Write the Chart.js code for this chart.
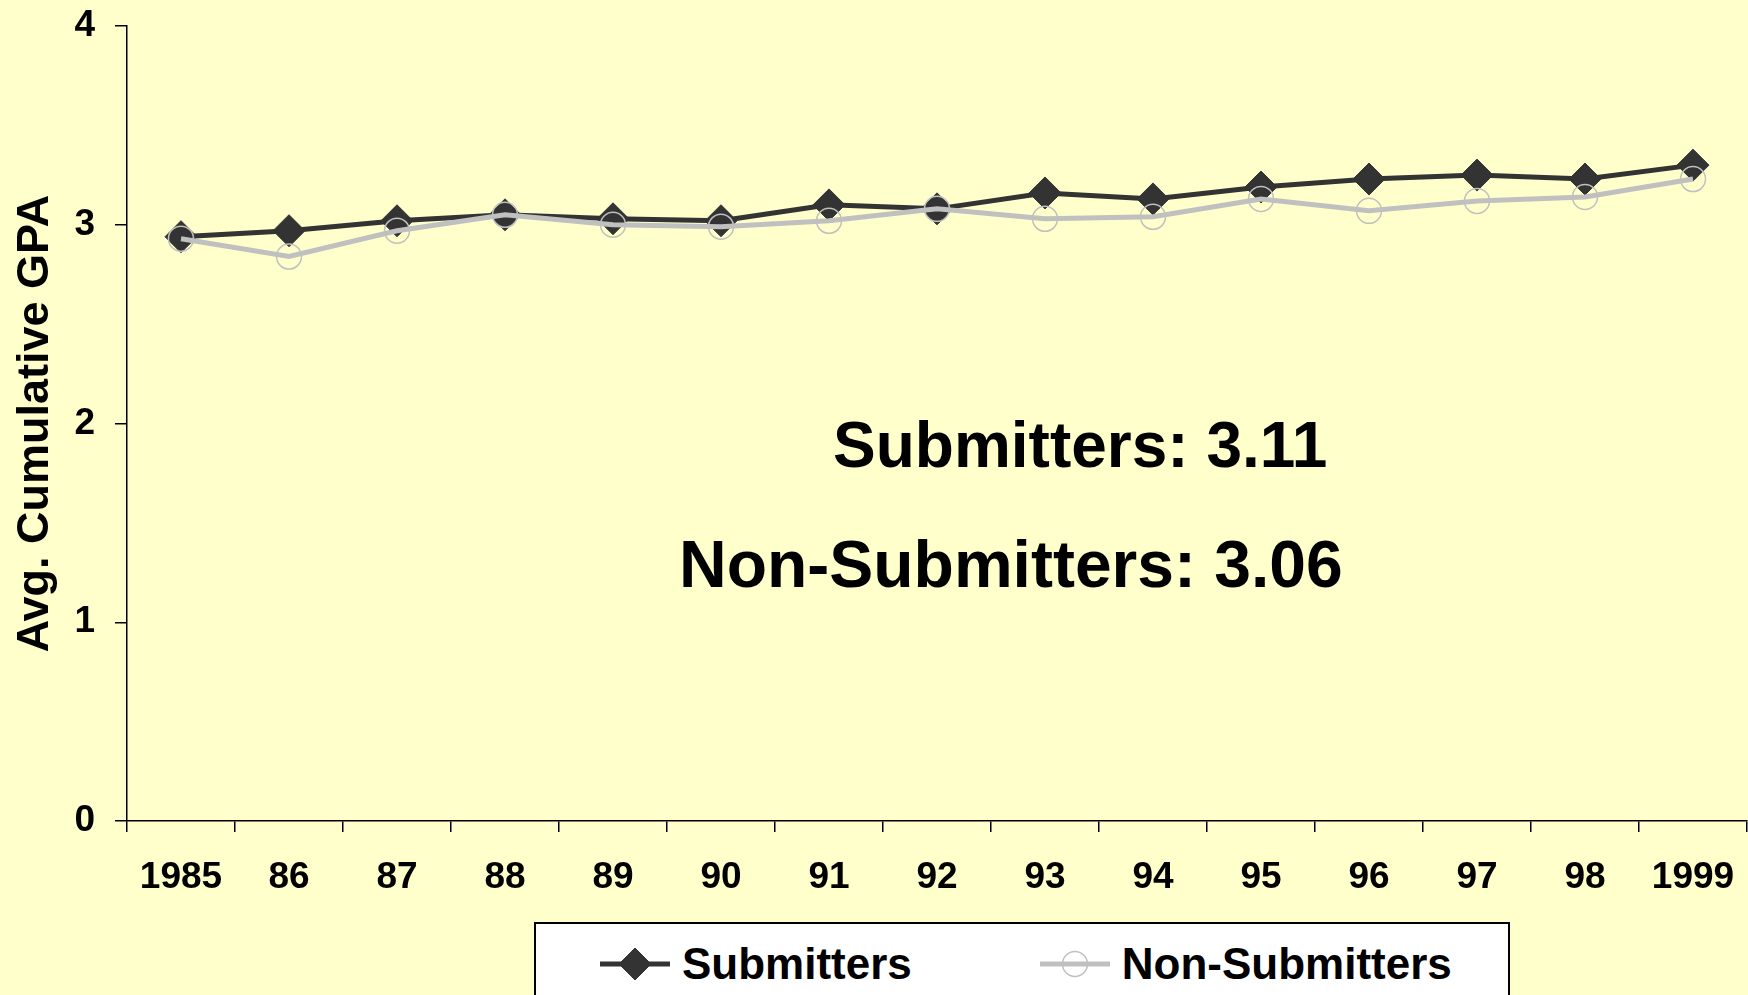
<!DOCTYPE html>
<html>
<head>
<meta charset="utf-8">
<title>Avg. Cumulative GPA</title>
<script src="https://cdn.jsdelivr.net/npm/chart.js"></script>
<style>
  body { margin: 0; background: #FFFFCC; overflow: hidden; font-family: "Liberation Sans", Arial, sans-serif; }
  #wrap { position: relative; width: 1748px; height: 995px; overflow: hidden; }
  #legend {
    position: absolute; left: 534px; top: 922px; width: 976px; height: 100px;
    background: #fff; border: 2px solid #000; box-sizing: border-box;
    display: flex; align-items: flex-start; padding: 16px 0 0 64px;
  }
  .item { display: flex; align-items: center; margin-right: 128px; flex-shrink: 0; white-space: nowrap; }
  .item canvas { margin-right: 12px; }
  .item span { font-weight: bold; font-size: 44px; line-height: 48px; color: #000; }
</style>
</head>
<body>
<div id="wrap">
  <!-- a bit wider than the window: chart.js keeps some room right of the axis, the wrapper cuts it off -->
  <canvas id="gpaChart" width="1764" height="995"></canvas>
  <div id="legend"></div>
</div>
<script>
const years = ["1985", "86", "87", "88", "89", "90", "91", "92", "93", "94", "95", "96", "97", "98", "1999"];
const submitters = [2.94, 2.97, 3.02, 3.05, 3.03, 3.02, 3.10, 3.08, 3.16, 3.13, 3.19, 3.23, 3.25, 3.23, 3.30];
const nonSubmitters = [2.93, 2.84, 2.97, 3.05, 3.00, 2.99, 3.02, 3.08, 3.03, 3.04, 3.13, 3.07, 3.12, 3.14, 3.23];
const yTicks = [0, 1, 2, 3, 4];
const notes = ["Submitters: 3.11", "Non-Submitters: 3.06"];

const FONT = "'Liberation Sans', Arial, sans-serif";

// big averages written in the middle of the plot
const notesPlugin = {
  id: 'notes',
  afterDraw(chart) {
    const ctx = chart.ctx;
    ctx.save();
    ctx.fillStyle = '#000';
    ctx.textAlign = 'left';
    ctx.textBaseline = 'middle';
    ctx.font = 'bold 64px ' + FONT;
    ctx.fillText(notes[0], 833, 449);
    ctx.font = 'bold 66px ' + FONT;
    ctx.fillText(notes[1], 679, 569);
    ctx.restore();
  }
};

// keep the plot area flush with the fixed axis sizes
function noPad(scale) {
  scale.paddingLeft = scale.paddingRight = scale.paddingTop = scale.paddingBottom = 0;
  if (scale._margins) {
    scale._margins.left = scale._margins.right = scale._margins.top = scale._margins.bottom = 0;
  }
}

const chart = new Chart("gpaChart", {
  type: "line",
  data: {
    labels: years,
    datasets: [{
      label: "Submitters",
      data: submitters,
      borderColor: "#333333",
      backgroundColor: "#333333",
      borderWidth: 5,
      pointStyle: "rectRot",
      pointRadius: 16,
      pointBorderWidth: 1,
      pointBackgroundColor: "#333333",
      order: 1,
      fill: false
    }, {
      label: "Non-Submitters",
      data: nonSubmitters,
      borderColor: "#C0C0C0",
      backgroundColor: "rgba(0,0,0,0)",
      borderWidth: 5,
      pointStyle: "circle",
      pointRadius: 12.5,
      pointBorderWidth: 1.5,
      pointBackgroundColor: "rgba(0,0,0,0)",
      order: 0,
      fill: false
    }]
  },
  options: {
    responsive: false,
    animation: false,
    layout: { padding: { top: 26, right: 0, bottom: 0, left: 0 } },
    plugins: {
      legend: { display: false },
      tooltip: { enabled: false }
    },
    scales: {
      x: {
        offset: true,
        grid: { offset: true, drawOnChartArea: false, color: "#000", lineWidth: 1.5, tickLength: 11 },
        border: { color: "#000", width: 1.5 },
        ticks: { color: "#000", padding: 24, maxRotation: 0, autoSkip: false, font: { family: FONT, size: 37, weight: "bold" } },
        afterFit(scale) {
          scale.height = 174;
          noPad(scale);
        }
      },
      y: {
        min: 0,
        max: 4,
        afterBuildTicks(scale) { scale.ticks = yTicks.map(v => ({ value: v })); },
        grid: { drawOnChartArea: false, color: "#000", lineWidth: 1.5, tickLength: 12 },
        border: { color: "#000", width: 1.5 },
        ticks: { color: "#000", padding: 20, font: { family: FONT, size: 37, weight: "bold" } },
        title: {
          display: true,
          text: "Avg. Cumulative GPA",
          color: "#000",
          padding: { top: 9, bottom: 0 },
          font: { family: FONT, size: 45, weight: "bold" }
        },
        afterFit(scale) {
          scale.width = 127;
          noPad(scale);
        }
      }
    }
  },
  plugins: [notesPlugin]
});

// legend in a white box under the axis
const legendBox = document.getElementById('legend');
chart.data.datasets.forEach(function(ds) {
  const item = document.createElement('div');
  item.className = 'item';
  const sw = document.createElement('canvas');
  sw.width = 70; sw.height = 36;
  const c = sw.getContext('2d');
  c.strokeStyle = ds.borderColor;
  c.lineWidth = ds.borderWidth;
  c.beginPath(); c.moveTo(0, 18); c.lineTo(70, 18); c.stroke();
  c.fillStyle = ds.pointBackgroundColor;
  c.lineWidth = ds.pointBorderWidth;
  Chart.helpers.drawPoint(c, { pointStyle: ds.pointStyle, radius: ds.pointRadius, borderWidth: ds.pointBorderWidth, rotation: 0 }, 35, 18);
  const txt = document.createElement('span');
  txt.textContent = ds.label;
  item.appendChild(sw);
  item.appendChild(txt);
  legendBox.appendChild(item);
});
</script>
</body>
</html>
